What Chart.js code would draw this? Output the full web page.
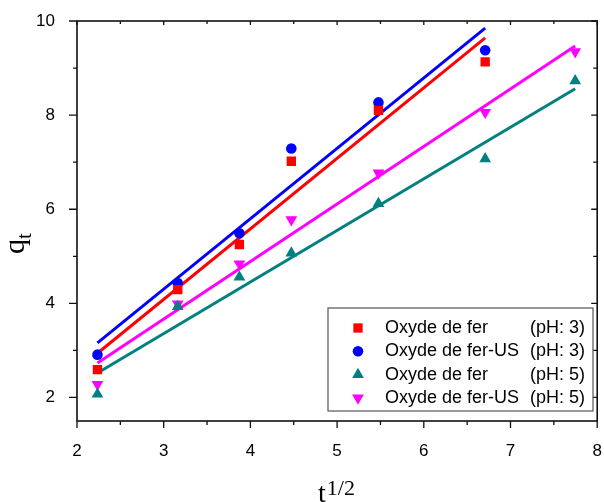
<!DOCTYPE html>
<html>
<head>
<meta charset="utf-8">
<script src="https://cdn.jsdelivr.net/npm/chart.js@4.4.1/dist/chart.umd.min.js"></script>
<style>
  html, body { margin: 0; padding: 0; background: #fff; }
  #wrap { width: 604px; height: 502px; position: relative; }
</style>
</head>
<body>
<div id="wrap"><canvas id="kinChart"></canvas></div>
<script>
// --- DATA ---
const xVals = [2.236, 3.162, 3.873, 4.472, 5.477, 6.708, 7.746];   // t^1/2
const qFer3   = [2.59, 4.29, 5.25, 7.02, 8.10, 9.13, null];
const qFerUS3 = [2.91, 4.43, 5.49, 7.29, 8.27, 9.38, null];
const qFer5   = [2.07, 3.93, 4.56, 5.07, 6.12, 7.07, 8.73];
const qFerUS5 = [2.28, 3.99, 4.84, 5.78, 6.77, 8.06, 9.35];

// fitted lines (end points)
const fitX3 = [2.236, 6.708];
const fitX5 = [2.236, 7.746];
const fitFer3   = [2.94, 9.64];
const fitFerUS3 = [3.16, 9.85];
const fitFer5   = [2.52, 8.56];
const fitFerUS5 = [2.73, 9.47];

const legendNames = ['Oxyde de fer', 'Oxyde de fer-US', 'Oxyde de fer', 'Oxyde de fer-US'];
const legendPH = ['(pH: 3)', '(pH: 3)', '(pH: 5)', '(pH: 5)'];

const xMajor = [2, 3, 4, 5, 6, 7, 8];
const xMinor = [2.5, 3.5, 4.5, 5.5, 6.5, 7.5];
const yMajor = [2, 4, 6, 8, 10];
const yMinor = [3, 5, 7, 9];

const colors = ['#ff0000', '#0000ff', '#008080', '#ff00ff'];
const styles = [
    { pointStyle: 'rect', radius: 6.6, rotation: 0 },
    { pointStyle: 'circle', radius: 5.3, rotation: 0 },
    { pointStyle: 'triangle', radius: 6.8, rotation: 0 },
    { pointStyle: 'triangle', radius: 6.8, rotation: 180 }
];

const pts = (xs, ys) => xs.map((x, i) => ({ x: x, y: ys[i] })).filter(p => p.y !== null);

function scatterSet(ys, i) {
    return {
        type: 'scatter', data: pts(xVals, ys), order: 0, showLine: false,
        backgroundColor: colors[i], borderColor: colors[i], borderWidth: 0,
        pointStyle: styles[i].pointStyle, pointRadius: styles[i].radius, pointRotation: styles[i].rotation,
        pointHoverRadius: styles[i].radius
    };
}
function fitSet(xs, ys, i) {
    return {
        type: 'line', data: pts(xs, ys), order: 1, borderColor: colors[i],
        borderWidth: 3, pointRadius: 0, fill: false, tension: 0
    };
}

// small marker helper for the legend
function drawMarker(ctx, i, x, y) {
    const s = styles[i], r = s.radius;
    ctx.save();
    ctx.fillStyle = colors[i];
    ctx.translate(x, y);
    ctx.rotate(s.rotation * Math.PI / 180);
    ctx.beginPath();
    if (s.pointStyle === 'rect') {
        const h = r * Math.SQRT1_2;
        ctx.rect(-h, -h, 2 * h, 2 * h);
    } else if (s.pointStyle === 'circle') {
        ctx.arc(0, 0, r, 0, Math.PI * 2);
    } else {
        ctx.moveTo(0, -r);
        ctx.lineTo(r * Math.sin(2 * Math.PI / 3), r * 0.5);
        ctx.lineTo(-r * Math.sin(2 * Math.PI / 3), r * 0.5);
        ctx.closePath();
    }
    ctx.fill();
    ctx.restore();
}

const framePlugin = {
    id: 'frame',
    afterDraw(chart) {
        const ctx = chart.ctx, a = chart.chartArea;
        const xs = chart.scales.x, ys = chart.scales.y;
        ctx.save();
        ctx.strokeStyle = '#111';
        ctx.lineWidth = 1.6;
        ctx.strokeRect(a.left, a.top, a.right - a.left, a.bottom - a.top);

        ctx.lineWidth = 1.3;
        ctx.beginPath();
        xMajor.forEach(v => {
            const p = xs.getPixelForValue(v);
            ctx.moveTo(p, a.bottom); ctx.lineTo(p, a.bottom + 7);
            ctx.moveTo(p, a.top); ctx.lineTo(p, a.top + 4);
        });
        xMinor.forEach(v => {
            const p = xs.getPixelForValue(v);
            ctx.moveTo(p, a.bottom); ctx.lineTo(p, a.bottom + 4);
            ctx.moveTo(p, a.top); ctx.lineTo(p, a.top + 3);
        });
        yMajor.forEach(v => {
            const p = ys.getPixelForValue(v);
            ctx.moveTo(a.left, p); ctx.lineTo(a.left - 8, p);
            ctx.moveTo(a.right, p); ctx.lineTo(a.right - 6, p);
        });
        yMinor.forEach(v => {
            const p = ys.getPixelForValue(v);
            ctx.moveTo(a.left, p); ctx.lineTo(a.left - 4, p);
            ctx.moveTo(a.right, p); ctx.lineTo(a.right - 4, p);
        });
        ctx.stroke();

        // legend box
        const lx = 328, ly = 308, lw = 265, lh = 103;
        ctx.fillStyle = '#fff';
        ctx.fillRect(lx, ly, lw, lh);
        ctx.strokeStyle = '#555';
        ctx.lineWidth = 1.2;
        ctx.strokeRect(lx, ly, lw, lh);
        ctx.font = '18px "Liberation Sans", Arial, sans-serif';
        ctx.fillStyle = '#000';
        ctx.textBaseline = 'middle';
        legendNames.forEach((name, i) => {
            const y = ly + 20 + i * 23.3;
            drawMarker(ctx, i, 358, y);
            ctx.textAlign = 'left';
            ctx.fillText(name, 385, y);
            ctx.textAlign = 'right';
            ctx.fillText(legendPH[i], 585, y);
        });

        // axis titles
        ctx.fillStyle = '#000';
        ctx.textAlign = 'left';
        ctx.textBaseline = 'alphabetic';
        ctx.save();
        ctx.translate(24, 254);
        ctx.rotate(-Math.PI / 2);
        ctx.font = '30px "Liberation Serif", "Times New Roman", serif';
        ctx.fillText('q', 0, 0);
        const qw = ctx.measureText('q').width;
        ctx.font = '21px "Liberation Serif", "Times New Roman", serif';
        ctx.fillText('t', qw, 7);
        ctx.restore();

        ctx.font = '28px "Liberation Serif", "Times New Roman", serif';
        const tw = ctx.measureText('t').width;
        ctx.fillText('t', 318, 502);
        ctx.font = '22px "Liberation Serif", "Times New Roman", serif';
        ctx.fillText('1/2', 318 + tw + 1, 495);
        ctx.restore();
    }
};

new Chart(document.getElementById('kinChart'), {
    data: {
        datasets: [
            scatterSet(qFer3, 0), scatterSet(qFerUS3, 1), scatterSet(qFer5, 2), scatterSet(qFerUS5, 3),
            fitSet(fitX3, fitFer3, 0), fitSet(fitX3, fitFerUS3, 1), fitSet(fitX5, fitFer5, 2), fitSet(fitX5, fitFerUS5, 3)
        ]
    },
    options: {
        responsive: true, maintainAspectRatio: false, animation: false, devicePixelRatio: 1,
        layout: { padding: { top: 21, right: 2, left: 0, bottom: 0 } },
        plugins: { legend: { display: false }, tooltip: { enabled: false } },
        scales: {
            x: {
                type: 'linear', min: 2, max: 8,
                grid: { display: false }, border: { display: false },
                afterBuildTicks: s => { s.ticks = xMajor.map(v => ({ value: v })); },
                afterFit: s => { s.height = 81; s.paddingLeft = 0; s.paddingRight = 0; },
                ticks: { color: '#000', padding: 12, maxRotation: 0, font: { family: '"Liberation Sans", Arial, sans-serif', size: 17 } }
            },
            y: {
                type: 'linear', min: 1.5, max: 10,
                grid: { display: false }, border: { display: false },
                afterBuildTicks: s => { s.ticks = yMajor.map(v => ({ value: v })); },
                afterFit: s => { s.width = 77; s.paddingTop = 0; s.paddingBottom = 0; },
                ticks: { color: '#000', padding: 14, font: { family: '"Liberation Sans", Arial, sans-serif', size: 17 } }
            }
        }
    },
    plugins: [framePlugin]
});
</script>
</body>
</html>
